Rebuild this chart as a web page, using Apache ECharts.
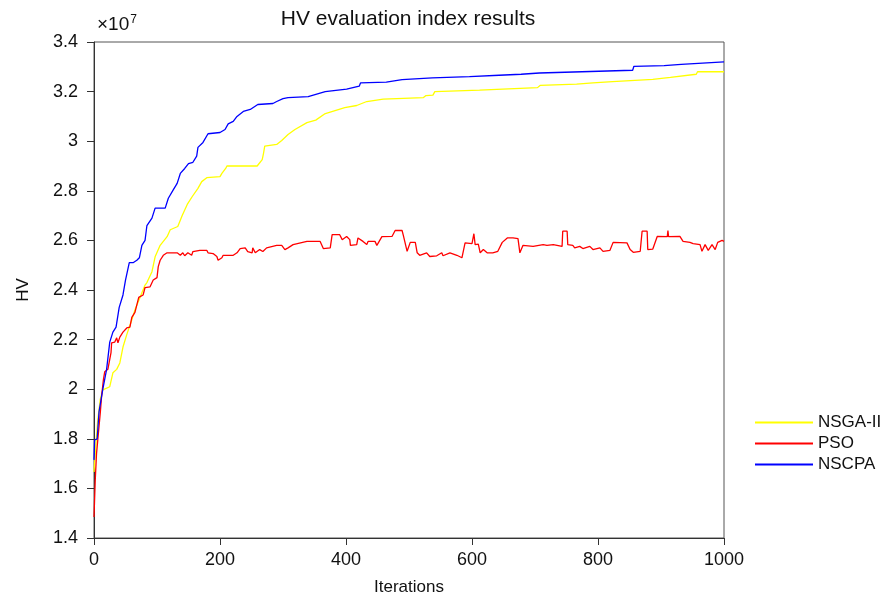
<!DOCTYPE html>
<html>
<head>
<meta charset="utf-8">
<title>HV evaluation index results</title>
<script src="https://cdn.jsdelivr.net/npm/echarts@6/dist/echarts.min.js"></script>
<style>
  html, body { margin: 0; padding: 0; background: #fff; }
  #main { width: 887px; height: 598px; }
</style>
</head>
<body>
<div id="main"></div>
<script>
// HV values in units of 1e7, [iteration, value]
const seriesNames = ['NSGA-II', 'PSO', 'NSCPA'];
const seriesColors = ['#ffff00', '#ff0000', '#0000ff'];
const xTicks = [0, 200, 400, 600, 800, 1000];
const yTicks = [1.4, 1.6, 1.8, 2, 2.2, 2.4, 2.6, 2.8, 3, 3.2, 3.4];

const nsgaData = [
    [0, 1.666], [3, 1.78], [6, 1.876], [10, 1.96], [14, 1.997], [25, 2.01], [30, 2.066], [36, 2.08],
    [41, 2.106], [46, 2.17], [52, 2.22], [60, 2.28], [65, 2.32], [73, 2.37], [81, 2.42], [84, 2.43],
    [92, 2.474], [97, 2.534], [105, 2.58], [116, 2.615], [121, 2.643], [133, 2.656], [140, 2.70],
    [148, 2.745], [156, 2.777], [165, 2.81], [171, 2.837], [179, 2.853], [200, 2.857], [203, 2.87],
    [209, 2.89], [211, 2.90], [259, 2.90], [267, 2.926], [269, 2.95], [271, 2.98], [290, 2.987],
    [298, 3.003], [308, 3.027], [319, 3.047], [338, 3.075], [352, 3.085], [366, 3.11], [398, 3.135],
    [417, 3.144], [433, 3.16], [459, 3.17], [523, 3.176], [527, 3.184], [538, 3.186], [541, 3.20],
    [612, 3.206], [614, 3.21], [704, 3.216], [708, 3.225], [766, 3.23], [768, 3.233], [792, 3.235],
    [794, 3.238], [823, 3.24], [825, 3.243], [887, 3.249], [889, 3.253], [915, 3.257], [917, 3.265],
    [956, 3.27], [958, 3.28], [1000, 3.28]
];

const psoData = [
    [0, 1.485], [2, 1.634], [4, 1.74], [6, 1.795], [10, 1.905], [12, 1.97], [15, 2.04], [17, 2.07],
    [22, 2.08], [27, 2.147], [28, 2.187], [33, 2.19], [36, 2.207], [38, 2.187], [41, 2.21], [46, 2.23],
    [52, 2.247], [57, 2.25], [60, 2.29], [65, 2.31], [71, 2.37], [78, 2.38], [81, 2.41], [89, 2.413],
    [94, 2.44], [100, 2.45], [102, 2.494], [105, 2.52], [110, 2.54], [116, 2.55], [132, 2.55], [137, 2.54],
    [141, 2.55], [144, 2.538], [149, 2.55], [155, 2.54], [157, 2.555], [168, 2.56], [179, 2.56], [181, 2.55],
    [189, 2.547], [195, 2.535], [197, 2.52], [203, 2.53], [205, 2.54], [221, 2.54], [227, 2.55], [232, 2.567],
    [240, 2.57], [243, 2.575], [244, 2.555], [251, 2.55], [252, 2.57], [256, 2.55], [263, 2.563], [268, 2.555],
    [274, 2.57], [282, 2.575], [284, 2.567], [290, 2.58], [298, 2.58], [303, 2.563], [308, 2.57], [316, 2.583],
    [338, 2.596], [359, 2.596], [364, 2.567], [375, 2.57], [378, 2.623], [390, 2.623], [394, 2.603], [401, 2.616],
    [406, 2.603], [407, 2.58], [417, 2.583], [419, 2.61], [427, 2.596], [433, 2.583], [435, 2.596], [446, 2.596],
    [449, 2.58], [457, 2.615], [473, 2.616], [478, 2.64], [489, 2.64], [491, 2.62], [497, 2.556], [502, 2.592],
    [510, 2.592], [513, 2.55], [517, 2.54], [528, 2.55], [533, 2.535], [544, 2.538], [552, 2.55], [554, 2.538],
    [565, 2.55], [576, 2.54], [584, 2.53], [589, 2.59], [600, 2.587], [603, 2.627], [605, 2.583], [610, 2.585],
    [613, 2.55], [618, 2.563], [624, 2.55], [633, 2.55], [641, 2.556], [648, 2.592], [656, 2.61], [665, 2.61],
    [673, 2.607], [676, 2.55], [681, 2.58], [697, 2.576], [713, 2.583], [719, 2.58], [729, 2.583], [743, 2.576],
    [744, 2.637], [751, 2.637], [752, 2.583], [760, 2.58], [763, 2.57], [771, 2.576], [776, 2.567], [787, 2.576],
    [792, 2.563], [803, 2.57], [808, 2.556], [819, 2.56], [824, 2.592], [846, 2.59], [851, 2.563], [856, 2.552],
    [867, 2.556], [870, 2.637], [878, 2.637], [879, 2.563], [887, 2.565], [894, 2.616], [910, 2.615], [911, 2.64],
    [912, 2.615], [930, 2.616], [935, 2.596], [946, 2.592], [951, 2.587], [962, 2.583], [965, 2.556], [970, 2.583],
    [975, 2.56], [981, 2.583], [986, 2.563], [990, 2.592], [997, 2.6], [1000, 2.596]
];

const nscpaData = [
    [0, 1.715], [1, 1.795], [5, 1.80], [8, 1.91], [14, 2.0], [20, 2.08], [25, 2.19], [30, 2.23],
    [35, 2.25], [40, 2.33], [46, 2.38], [50, 2.44], [56, 2.51], [62, 2.51], [68, 2.52], [72, 2.53],
    [76, 2.58], [81, 2.60], [84, 2.66], [92, 2.69], [97, 2.73], [113, 2.73], [118, 2.77], [126, 2.805],
    [132, 2.83], [137, 2.87], [144, 2.89], [150, 2.91], [157, 2.915], [163, 2.94], [165, 2.975], [173, 2.995],
    [181, 3.03], [200, 3.035], [208, 3.047], [213, 3.07], [221, 3.08], [227, 3.10], [237, 3.12], [248, 3.128],
    [260, 3.148], [284, 3.152], [290, 3.16], [300, 3.172], [308, 3.176], [340, 3.18], [367, 3.20], [401, 3.21],
    [403, 3.218], [421, 3.222], [423, 3.235], [464, 3.238], [466, 3.245], [489, 3.248], [491, 3.252],
    [537, 3.255], [539, 3.257], [596, 3.26], [598, 3.263], [643, 3.266], [645, 3.268], [678, 3.27],
    [680, 3.273], [707, 3.275], [709, 3.281], [855, 3.286], [857, 3.302], [905, 3.305], [907, 3.308],
    [932, 3.31], [934, 3.316], [1000, 3.32]
];

const allData = [nsgaData, psoData, nscpaData];

let chart = echarts.init(document.getElementById('main'), null, { renderer: 'canvas' });

const fontFamily = 'Liberation Sans, Arial, sans-serif';

const option = {
    animation: false,
    backgroundColor: '#ffffff',
    title: {
        text: 'HV evaluation index results',
        left: 403,
        textAlign: 'center',
        top: 4,
        textStyle: { fontFamily: fontFamily, fontSize: 21, fontWeight: 'normal', color: '#111' }
    },
    legend: {
        orient: 'vertical',
        left: 750,
        top: 409,
        icon: 'rect',
        itemWidth: 58,
        itemHeight: 2,
        itemGap: 4,
        data: seriesNames,
        textStyle: { fontFamily: fontFamily, fontSize: 17, color: '#111', lineHeight: 17 }
    },
    grid: {
        left: 94,
        right: 163,
        top: 42,
        bottom: 60,
        outerBoundsMode: 'none',
        containLabel: false,
        show: true,
        borderColor: '#555',
        borderWidth: 1
    },
    xAxis: {
        type: 'value',
        min: xTicks[0],
        max: xTicks[xTicks.length - 1],
        interval: 200,
        name: 'Iterations',
        nameLocation: 'middle',
        nameGap: 41,
        nameTextStyle: { fontFamily: fontFamily, fontSize: 17, color: '#111' },
        axisLine: { show: true, lineStyle: { color: '#333', width: 1 } },
        axisTick: { show: true, inside: false, length: 7, lineStyle: { color: '#333' } },
        axisLabel: {
            margin: 13,
            fontFamily: fontFamily,
            fontSize: 18,
            color: '#111',
            formatter: function (v) { return String(v); }
        },
        splitLine: { show: false }
    },
    yAxis: {
        type: 'value',
        min: yTicks[0],
        max: yTicks[yTicks.length - 1],
        interval: 0.2,
        name: 'HV',
        nameLocation: 'middle',
        nameGap: 62,
        nameTextStyle: { fontFamily: fontFamily, fontSize: 17, color: '#111' },
        axisLine: { show: true, lineStyle: { color: '#333', width: 1 } },
        axisTick: { show: true, inside: false, length: 7, lineStyle: { color: '#333' } },
        axisLabel: {
            margin: 16,
            fontFamily: fontFamily,
            fontSize: 18,
            color: '#111',
            formatter: function (v) { return String(parseFloat(v.toFixed(1))); }
        },
        splitLine: { show: false }
    },
    graphic: [
        {
            type: 'text',
            left: 97,
            top: 14,
            style: {
                text: '×10{sup|7}',
                font: '19px ' + fontFamily,
                fill: '#111',
                rich: { sup: { fontSize: 12, verticalAlign: 'top', padding: [0, 0, 9, 1], fontFamily: fontFamily } }
            }
        }
    ],
    series: seriesNames.map(function (name, i) {
        return {
            name: name,
            type: 'line',
            showSymbol: false,
            symbol: 'none',
            data: allData[i],
            color: seriesColors[i],
            lineStyle: { width: 1.3, color: seriesColors[i] },
            z: 2 + i
        };
    })
};

chart.setOption(option);
</script>
</body>
</html>
